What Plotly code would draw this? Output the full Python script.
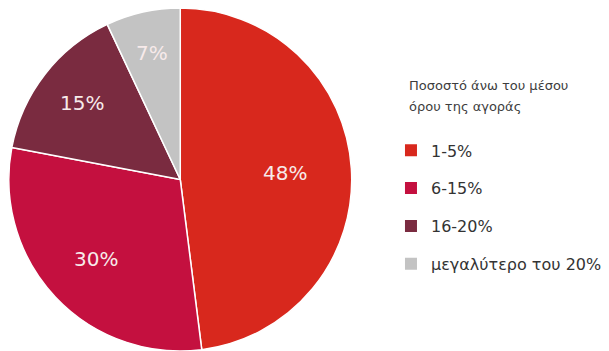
import math
import plotly.graph_objects as go

# Share of stores priced above the market average, by premium band
labels = ["1-5%", "6-15%", "16-20%", "μεγαλύτερο του 20%"]
shares = [48, 30, 15, 7]
colors = ["#d8281d", "#c4103f", "#7a2b40", "#c3c3c3"]
legend_title_lines = ["Ποσοστό άνω του μέσου", "όρου της αγοράς"]

W, H = 609, 351
FONT = "DejaVu Sans, Lato, sans-serif"
pie_x = [0.012, 0.580]
pie_y = [0.0, 0.977]

fig = go.Figure()

fig.add_trace(go.Pie(
    labels=labels,
    values=shares,
    sort=False,
    direction="clockwise",
    rotation=0,
    marker=dict(colors=colors, line=dict(color="white", width=1.5)),
    textinfo="none",
    hoverinfo="label+percent",
    showlegend=False,
    domain=dict(x=pie_x, y=pie_y),
))

# Percentage labels placed along each slice's mid-angle
cx = (pie_x[0] + pie_x[1]) / 2 * W
cy = (pie_y[0] + pie_y[1]) / 2 * H
radius = min((pie_x[1] - pie_x[0]) * W, (pie_y[1] - pie_y[0]) * H) / 2
total = sum(shares)
cum = 0.0
for v in shares:
    mid = (cum + v / 2) / total * 2 * math.pi
    cum += v
    frac = 0.78 - 0.0035 * v
    px = cx + radius * frac * math.sin(mid)
    py = cy + radius * frac * math.cos(mid)
    fig.add_annotation(
        x=px / W, y=py / H, xref="paper", yref="paper",
        xanchor="center", yanchor="middle",
        text=f"{v}%", showarrow=False,
        font=dict(family=FONT, size=20, color="#f7eaea"),
    )

# Legend heading, two lines
for i, line in enumerate(legend_title_lines):
    fig.add_annotation(
        x=0.668, y=1 - (85 + 22 * i) / H, xref="paper", yref="paper",
        xanchor="left", yanchor="middle",
        text=line, showarrow=False,
        font=dict(family=FONT, size=13, color="#3d3d3d"),
    )

# Legend entries drawn as square markers, one group each for even spacing
for lab, col in zip(labels, colors):
    fig.add_trace(go.Scatter(
        x=[None], y=[None],
        mode="markers",
        name=lab,
        legendgroup=lab,
        marker=dict(symbol="square", size=9, color=col),
        showlegend=True,
    ))

fig.update_layout(
    width=W,
    height=H,
    margin=dict(l=0, r=0, t=0, b=0),
    paper_bgcolor="white",
    plot_bgcolor="white",
    xaxis=dict(visible=False),
    yaxis=dict(visible=False),
    legend=dict(
        x=0.642,
        y=0.62,
        xanchor="left",
        yanchor="top",
        tracegroupgap=14,
        itemsizing="constant",
        font=dict(family=FONT, size=16, color="#333333"),
        bgcolor="rgba(0,0,0,0)",
    ),
)

fig.write_html("out.html")
